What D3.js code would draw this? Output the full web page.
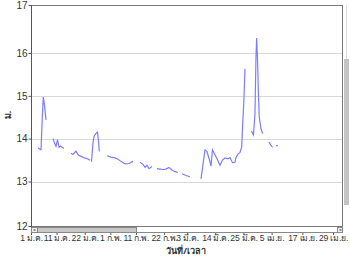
<!DOCTYPE html>
<html><head><meta charset="utf-8">
<script src="https://cdn.jsdelivr.net/npm/d3@7"></script>
<style>
html,body{margin:0;padding:0;background:#fff;}
svg{display:block;font-family:Tahoma,"Noto Sans","DejaVu Sans",sans-serif;}
</style></head>
<body><svg id="c" width="350" height="256"></svg>
<script>
// --- data: days since 1 Jan (fractional), water level (m); null = gap
const days = [
 2.73,3.91,4.41,4.80,5.27,5.86, null,
 8.59,9.18,9.77,10.35,10.94,11.52,12.11,12.89, null,
 15.63,16.41,17.58,18.48,19.80,20.9,21.99,23.05, null,
 23.63,24.22,24.61,25.39,25.98,26.37,26.68, null,
 29.69,31.25,32.81,33.98,35.16,36.72,38.28,39.84, null,
 42.58,43.75,44.53,45.31,46.09,47.27, null,
 49.22,50.39,51.56,52.73,53.91,55.08,56.25,57.42, null,
 58.98,60.55,62.11, null,
 66.41,67.19,67.97,68.75,69.65,70.31,70.9,71.68,72.77,73.83,74.8,75.78,76.95,77.73,78.71,79.69,80.08,80.86,81.64,82.3,82.7,83.2,83.59, null,
 86.13,86.91,87.5,87.89,88.16,88.55,88.87,89.18,89.84,90.51, null,
 92.97,93.75,94.34, null,
 95.7,96.48
];
const levels = [
 13.78,13.74,14.5,14.97,14.78,14.44, null,
 14.0,13.9,13.82,13.98,13.8,13.83,13.8,13.78, null,
 13.66,13.63,13.71,13.62,13.58,13.55,13.53,13.5, null,
 13.46,13.9,14.05,14.12,14.15,13.95,13.7, null,
 13.6,13.57,13.55,13.52,13.47,13.41,13.42,13.47, null,
 13.45,13.4,13.33,13.38,13.3,13.35, null,
 13.3,13.29,13.28,13.29,13.33,13.27,13.23,13.21, null,
 13.18,13.14,13.11, null,
 13.06,13.4,13.74,13.7,13.52,13.36,13.74,13.65,13.52,13.38,13.5,13.55,13.53,13.56,13.44,13.45,13.56,13.64,13.68,13.8,14.34,14.95,15.63, null,
 14.18,14.09,14.58,15.9,16.31,15.75,15.0,14.5,14.23,14.12, null,
 13.92,13.85,13.8, null,
 13.83,13.84
];
const xTickDays = [0,10,21,31,41,52,61,72,83,94,106,118];
const xTickLabels = ["1 ม.ค.","11 ม.ค.","22 ม.ค.","1 ก.พ.","11 ก.พ.","22 ก.พ.","3 มี.ค.","14 มี.ค.","25 มี.ค.","5 เม.ย.","17 เม.ย.","29 เม.ย."];
const yTicks = [12,13,14,15,16,17];
const xTitle = "วันที่/เวลา";
const yTitle = "ม.";

// --- layout
const L = 31, R = 342, T = 5, B = 226;
const svg = d3.select("#c");
const x = d3.scaleLinear().domain([0, 121.5]).range([L, R]);
const y = d3.scaleLinear().domain([12, 13, 16, 17]).range([B, 181.5, 53, T]);

// grid
svg.append("g").selectAll("line").data(yTicks.filter(v => v > 12 && v < 17)).join("line")
  .attr("x1", L).attr("x2", R).attr("y1", d => Math.round(y(d)) + 0.5).attr("y2", d => Math.round(y(d)) + 0.5)
  .attr("stroke", "#d8d8d8").attr("stroke-width", 1);

// frame
svg.append("rect").attr("x", L + 0.5).attr("y", T + 0.5).attr("width", R - L).attr("height", B - T)
  .attr("fill", "none").attr("stroke", "#777").attr("stroke-width", 1);
svg.append("line").attr("x1", L + 0.5).attr("x2", L + 0.5).attr("y1", T).attr("y2", B + 1).attr("stroke", "#555");

// line
const pts = days.map((d, i) => [d, levels[i]]);
const line = d3.line().defined(p => p[0] != null && p[1] != null).x(p => x(p[0])).y(p => y(p[1]));
svg.append("path").attr("d", line(pts)).attr("fill", "none").attr("stroke", "#7c7cff").attr("stroke-width", 1.2);

// y axis
const yAxis = d3.axisLeft(y).tickValues(yTicks).tickSize(3).tickFormat(d3.format("d"));
const gy = svg.append("g").attr("transform", `translate(${L + 0.5},0)`).call(yAxis);
gy.select(".domain").remove();
gy.selectAll("line").attr("stroke", "#555");
gy.selectAll("text").attr("font-size", 10).attr("fill", "#333").attr("x", -4);

// horizontal scrollbar
const sb = svg.append("g");
sb.append("line").attr("x1", L).attr("x2", R + 1).attr("y1", 232.5).attr("y2", 232.5).attr("stroke", "#888");
sb.append("rect").attr("x", L + 0.5).attr("y", 227.5).attr("width", 6).attr("height", 5).attr("fill", "#eee").attr("stroke", "#888");
sb.append("rect").attr("x", L + 2.5).attr("y", 229.5).attr("width", 2).attr("height", 1).attr("fill", "#333");
sb.append("rect").attr("x", 37.5).attr("y", 227.5).attr("width", 99).attr("height", 5).attr("fill", "#c8c8c8").attr("stroke", "#888");
sb.append("rect").attr("x", 337.5).attr("y", 227.5).attr("width", 5).attr("height", 5).attr("fill", "#eee").attr("stroke", "#888");
sb.append("rect").attr("x", 339.5).attr("y", 229.5).attr("width", 2).attr("height", 1).attr("fill", "#333");

// vertical scrollbar
svg.append("line").attr("x1", 346.5).attr("x2", 346.5).attr("y1", T).attr("y2", 59).attr("stroke", "#ddd");
svg.append("rect").attr("x", 344).attr("y", 59).attr("width", 5).attr("height", 146).attr("fill", "#c4c4c4");

// x axis
const xAxis = d3.axisBottom(x).tickValues(xTickDays).tickSize(2).tickPadding(1).tickFormat((d, i) => xTickLabels[i]);
const gx = svg.append("g").attr("transform", `translate(0,233)`).call(xAxis);
gx.select(".domain").remove();
gx.selectAll("line").attr("stroke", "#555");
gx.selectAll("text").attr("font-size", 8.6).attr("letter-spacing", -0.2).attr("fill", "#333").attr("dy", "0.6em");

// titles
svg.append("text").attr("x", 186).attr("y", 254).attr("text-anchor", "middle")
  .attr("font-size", 9).attr("font-weight", "bold").attr("fill", "#333").text(xTitle);
svg.append("text").attr("transform", "translate(11,115) rotate(-90)").attr("text-anchor", "middle")
  .attr("font-size", 9).attr("font-weight", "bold").attr("fill", "#333").text(yTitle);
</script></body></html>
